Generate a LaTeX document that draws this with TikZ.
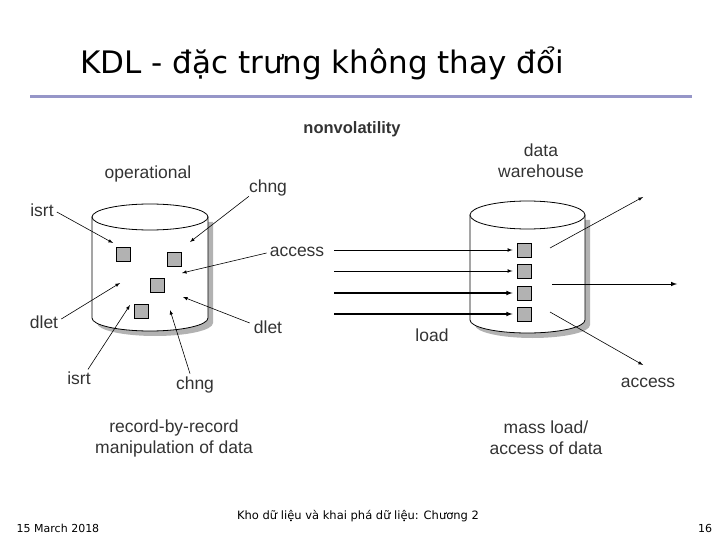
\documentclass[tikz,border=0pt]{standalone}
\usepackage{fontspec}
\setmainfont{Liberation Sans}
\newfontfamily\titlefont{DejaVu Sans}
\begin{document}
\begin{tikzpicture}[x=1pt,y=-1pt,
  lbl/.style={inner sep=0pt,text=black!80,font=\fontsize{17.5}{19}\selectfont},
  sq/.style={draw,line width=1pt,fill=black!30,minimum size=14pt,inner sep=0pt},
  arr/.style={-latex,line width=0.6pt},
  larr/.style={-latex,line width=1pt},
  cyl/.style={draw,line width=0.8pt,fill=white}]
\useasboundingbox (0,0) rectangle (720,540);
\node[anchor=west,inner sep=0pt,font=\titlefont\fontsize{31}{34}\selectfont] (title) at (80,63) {KDL - đặc trưng không thay đổi};
\draw[line width=3pt,color={rgb,255:red,150;green,150;blue,200}] (30,97) coordinate (l1) -- (692,97) coordinate (l2);
% left cylinder
\fill[black!30] (97,222) -- (97,323) arc[start angle=180,end angle=0,x radius=58,y radius=13] -- (213,222) -- cycle;
\filldraw[cyl] (92,217) -- (92,318) arc[start angle=180,end angle=0,x radius=58,y radius=13] -- (208,217) -- cycle;
\draw[cyl] (150,217) ellipse[x radius=58,y radius=13];
% right cylinder
\fill[black!30] (475,220) -- (475,325) arc[start angle=180,end angle=0,x radius=57.5,y radius=13] -- (590,220) -- cycle;
\filldraw[cyl] (470,215) -- (470,320) arc[start angle=180,end angle=0,x radius=57.5,y radius=13] -- (585,215) -- cycle;
\draw[cyl] (527.5,215) ellipse[x radius=57.5,y radius=14];
% squares left
\node[sq] (s1) at (123,254) {};
\node[sq] (s2) at (174,259) {};
\node[sq] (s3) at (157,285) {};
\node[sq] (s4) at (141,311) {};
% squares right
\node[sq] (r1) at (524,250) {};
\node[sq] (r2) at (524,271) {};
\node[sq] (r3) at (524,293) {};
\node[sq] (r4) at (524,314) {};
% labels
\node[lbl,font=\bfseries\fontsize{16.5}{18}\selectfont] (nv) at (352,129) {nonvolatility};
\node[lbl] (op) at (148,174) {operational};
\node[lbl,align=center] (dw) at (541,161) {data\\[2pt]warehouse};
\node[lbl] (i1) at (42,210) {isrt};
\node[lbl] (c1) at (268,188) {chng};
\node[lbl] (ac) at (297,252) {access};
\node[lbl] (d1) at (44,322) {dlet};
\node[lbl] (d2) at (268,327) {dlet};
\node[lbl] (i2) at (79,378) {isrt};
\node[lbl] (c2) at (195,385) {chng};
\node[lbl] (ld) at (432,335) {load};
\node[lbl] (ac2) at (648,383) {access};
\node[lbl,align=center] (rr) at (174,438) {record-by-record\\[2pt]manipulation of data};
\node[lbl,align=center] (ml) at (546,438) {mass load/\\[2pt]access of data};
% left arrows
\coordinate (t1) at (113,243); \coordinate (t2) at (190,242); \coordinate (t3) at (182,273);
\coordinate (t4) at (120,283); \coordinate (t5) at (183,297); \coordinate (t6) at (130,305); \coordinate (t7) at (170,310);
\draw[arr] (i1.east) ++(3,2) -- (t1);
\draw[arr] (c1.south west) -- (t2);
\draw[arr] (ac.west) ++(-3,1) -- (t3);
\draw[arr] (d1.east) ++(3,-3) -- (t4);
\draw[arr] (d2.west) ++(-4,-4) -- (t5);
\draw[arr] (i2.north) ++(9,-2) -- (t6);
\draw[arr] (c2.north) ++(-5,-3) -- (t7);
% load lines
\foreach \n/\w in {r1/0.7,r2/0.7,r3/1.1,r4/1.1}{
  \draw[-latex,line width=\w pt] (334,0|-\n.west) -- ([xshift=-4pt]\n.west);
}
% out arrows
\coordinate (o1) at (550,248); \coordinate (o2) at (552,284); \coordinate (o3) at (550,312);
\coordinate (e1) at (643,197); \coordinate (e2) at (677,284); \coordinate (e3) at (643,365);
\draw[arr] (o1) -- (e1);
\draw[larr] (o2) -- (e2);
\draw[arr] (o3) -- (e3);
% footer
\node[inner sep=0pt,font=\titlefont\fontsize{11}{13}\selectfont] (f1) at (58,528) {15 March 2018};
\node[inner sep=0pt,font=\titlefont\fontsize{11.5}{13}\selectfont] (f2) at (358,516) {Kho dữ liệu và khai phá dữ liệu: Chương 2};
\node[inner sep=0pt,font=\titlefont\fontsize{11}{13}\selectfont] (f3) at (705,528) {16};
\end{tikzpicture}
\end{document}
